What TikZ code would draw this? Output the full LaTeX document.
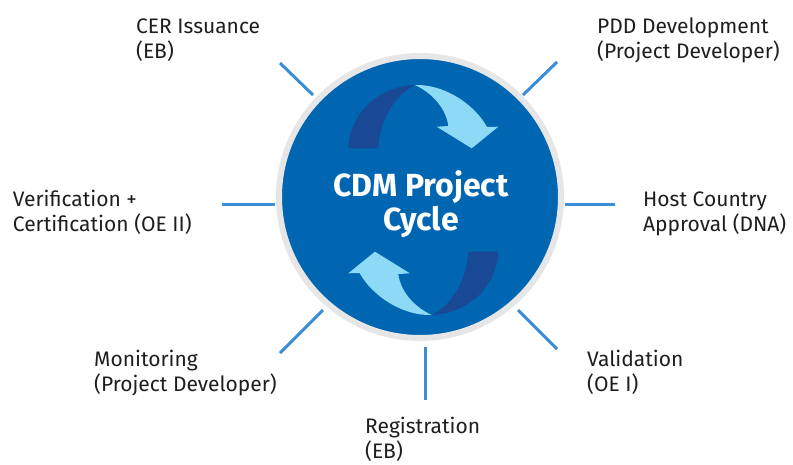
\documentclass[tikz,border=0pt]{standalone}
\usepackage{fontspec}
\setmainfont{Fira Sans}
\begin{document}
\begin{tikzpicture}[x=1pt,y=-1pt,
  lbl/.style={font=\fontsize{21}{25}\selectfont, text=labeltext, align=left, inner sep=0pt, anchor=base west},
  tickline/.style={draw=tickblue, line width=3pt},
  hubstyle/.style={circle, fill=cdmblue, draw=ringgray, line width=6pt, minimum size=282pt, inner sep=0pt},
  titlestyle/.style={font=\fontsize{32}{34}\selectfont\bfseries, text=white, align=center, inner sep=0pt, anchor=base}]
\definecolor{cdmblue}{HTML}{0066B2}
\definecolor{ringgray}{HTML}{E6E6E6}
\definecolor{darkribbon}{HTML}{194894}
\definecolor{lightribbon}{HTML}{8CDAF5}
\definecolor{tickblue}{HTML}{3A8ED8}
\definecolor{labeltext}{HTML}{1E1E1E}
\useasboundingbox (0,0) rectangle (793,464);

% central disc
\node[hubstyle] (hub) at (420,197) {};

% upper ribbon arrow: back side (dark) then front side (light)
\newcommand{\ribbonarrow}{%
  \fill[darkribbon] (348.3,148.3) .. controls (350,112) and (380,86) .. (415,85)
    .. controls (398,93) and (380,116) .. (378.3,148.3) -- cycle;
  \fill[lightribbon] (415,85) .. controls (445,84) and (475,105) .. (487,127)
    -- (498.3,126.7) -- (471.7,148.3) -- (436.7,126.7) -- (448.3,126)
    .. controls (446,108) and (432,93) .. (415,85) -- cycle;}
\ribbonarrow
% lower ribbon arrow: the same shape turned half way round
\begin{scope}[rotate around={180:(423.3,200)}]
  \ribbonarrow
\end{scope}

% two-line nodes below sit on the baseline of their last line
\node[titlestyle] (title) at (421,230) {CDM Project\\Cycle};

% tick marks around the disc
\coordinate (c1a) at (280,63);  \coordinate (c1b) at (313,95);
\coordinate (c2a) at (557,62);  \coordinate (c2b) at (523,95);
\coordinate (c3a) at (565,204); \coordinate (c3b) at (615,204);
\coordinate (c4a) at (518,310); \coordinate (c4b) at (557,349);
\coordinate (c5a) at (425,347); \coordinate (c5b) at (425,400);
\coordinate (c6a) at (323,310); \coordinate (c6b) at (280,353);
\coordinate (c7a) at (275,204); \coordinate (c7b) at (222,204);
\foreach \i in {1,...,7} \draw[tickline] (c\i a) -- (c\i b);

% stage labels
\node[lbl] (cer)   at (136,58)   {CER Issuance\\(EB)};
\node[lbl] (pdd)   at (597,58)   {PDD Development\\(Project Developer)};
\node[lbl] (host)  at (643,231)  {Host Country\\Approval (DNA)};
\node[lbl] (valid) at (587,391)  {Validation\\(OE I)};
\node[lbl] (reg)   at (365,458)  {Registration\\(EB)};
\node[lbl] (mon)   at (94,391)   {Monitoring\\(Project Developer)};
\node[lbl] (verif) at (12.7,231) {Verification +\\Certification (OE II)};
\end{tikzpicture}
\end{document}
